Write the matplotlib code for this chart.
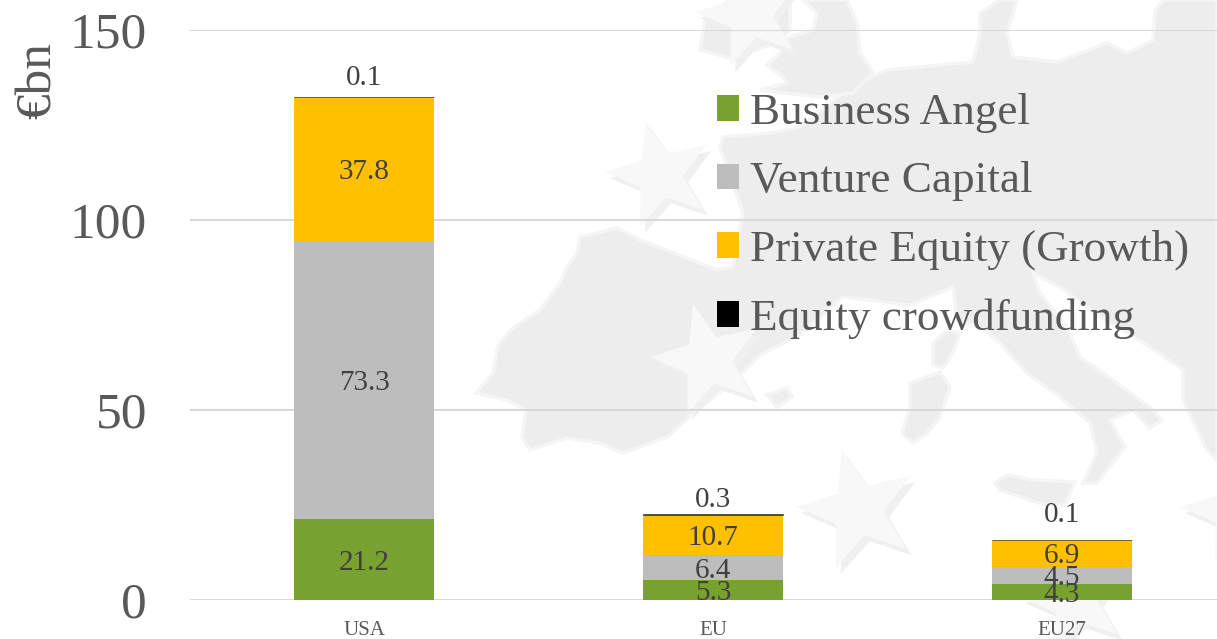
import numpy as np
import matplotlib
matplotlib.use('Agg')
import matplotlib.pyplot as plt
from matplotlib.patches import Patch, Polygon

categories = ['USA', 'EU', 'EU27']
business_angel = [21.2, 5.3, 4.3]
venture_capital = [73.3, 6.4, 4.5]
private_equity = [37.8, 10.7, 6.9]
crowdfunding = [0.1, 0.3, 0.1]
y_ticks = [0, 50, 100, 150]

series_names = ['Business Angel', 'Venture Capital', 'Private Equity (Growth)', 'Equity crowdfunding']
series_colors = ['#78A22F', '#BDBDBD', '#FFC000', '#000000']

# how far the top labels sit above the bars, in points
top_label_offset = [16, 12, 20]

# background map, traced in image pixels (decoration only)
iberia_europe = [(476, 393), (493, 373), (498, 345), (513, 328), (540, 310), (560, 283), (568, 265), (577, 253),
                 (580, 237), (617, 228), (640, 240), (687, 258), (717, 270), (733, 267), (743, 213), (720, 147),
                 (723, 137), (770, 133), (800, 127), (850, 87), (887, 70), (917, 67), (973, 62), (980, 33),
                 (980, 13), (1000, 0), (1017, 0), (1007, 33), (1013, 57), (1057, 62), (1107, 43), (1127, 53),
                 (1153, 40), (1155, 10), (1163, 0), (1217, 0), (1217, 460), (1207, 450), (1183, 400), (1183, 370),
                 (1150, 347), (1100, 317), (1060, 287), (1033, 273), (1040, 293), (1067, 327), (1080, 357),
                 (1103, 373), (1150, 407), (1162, 420), (1150, 428), (1133, 410), (1110, 420), (1125, 447),
                 (1097, 483), (1083, 483), (1097, 453), (1090, 423), (1060, 397), (1027, 373), (997, 340),
                 (980, 327), (957, 320), (953, 287), (910, 305), (870, 300), (843, 297), (800, 335), (760, 355),
                 (735, 380), (697, 410), (667, 437), (623, 453), (600, 443), (567, 438), (530, 450), (522, 437),
                 (526, 410), (507, 400)]
britain = [(803, 0), (817, 13), (813, 30), (790, 37), (783, 50), (767, 65), (783, 77), (787, 83), (760, 90),
           (820, 97), (853, 93), (873, 72), (860, 53), (857, 23), (847, 0)]
ireland = [(700, 50), (705, 20), (730, 0), (790, 0), (790, 30), (770, 45), (730, 58)]
corsica = [(933, 343), (947, 330), (960, 333), (953, 353), (943, 368), (933, 365)]
sardinia = [(910, 383), (940, 372), (950, 387), (940, 417), (927, 433), (913, 443), (902, 433), (910, 407)]
sicily = [(995, 483), (1007, 475), (1033, 480), (1075, 482), (1065, 505), (1045, 505), (1000, 490)]
mallorca = [(767, 395), (787, 388), (792, 397), (777, 407)]
land = [iberia_europe, britain, ireland, corsica, sardinia, sicily, mallorca]
stars = [(708, 360, 58), (660, 175, 55), (858, 510, 62), (750, 15, 55), (1075, 600, 55), (1235, 510, 55)]


def star_points(cx, cy, r, rot=15):
    angles = np.radians(90 + rot + np.arange(10) * 36)
    radius = np.where(np.arange(10) % 2 == 0, r, r * 0.42)
    return np.column_stack([cx + radius * np.cos(angles), cy - radius * np.sin(angles)])


plt.rcParams['font.family'] = ['Liberation Serif', 'DejaVu Serif']

fig = plt.figure(figsize=(12.17, 6.39), dpi=100)

bg = fig.add_axes([0, 0, 1, 1], zorder=0)
bg.set_xlim(0, 1217)
bg.set_ylim(639, 0)
bg.axis('off')
for shape in land:
    bg.add_patch(Polygon(shape, closed=True, facecolor='#EDEDED', edgecolor='#F5F5F5', linewidth=2.5))
for cx, cy, r in stars:
    bg.add_patch(Polygon(star_points(cx + 5, cy + 6, r), closed=True, facecolor='#F0F0F0', edgecolor='none'))
    bg.add_patch(Polygon(star_points(cx, cy, r), closed=True, facecolor='#F8F8F8', edgecolor='none'))

ax = fig.add_axes([189.5 / 1217, 39 / 639, (1217 - 189.5) / 1217, 570 / 639], zorder=1)
ax.patch.set_alpha(0)

x = np.arange(len(categories))
all_series = [business_angel, venture_capital, private_equity, crowdfunding]
bottom = np.zeros(len(categories))
for i, values in enumerate(all_series):
    if i < 3:
        ax.bar(x, values, 0.4, bottom=bottom, color=series_colors[i], zorder=3)
        for j, v in enumerate(values):
            ax.text(x[j], bottom[j] + v / 2, str(v), ha='center', va='center_baseline', fontsize=21,
                    color='#404040', zorder=4)
    else:
        # thin slice, needs an edge or it vanishes at this scale
        ax.bar(x, values, 0.4, bottom=bottom, color=series_colors[i], edgecolor='#404040', linewidth=0.5, zorder=3)
        for j, v in enumerate(values):
            ax.annotate(str(v), (x[j], bottom[j] + v), xytext=(0, top_label_offset[j]), textcoords='offset points',
                        ha='center', va='center_baseline', fontsize=21, color='#404040', zorder=4)
    bottom = bottom + np.array(values)

ax.set_xlim(-0.5, 2.444)
ax.set_ylim(0, 150)
ax.set_xticks(x)
ax.set_xticklabels(categories, fontsize=15, color='#595959')
ax.set_yticks(y_ticks)
ax.tick_params(axis='y', length=0, labelsize=37, labelcolor='#595959', pad=30.5)
ax.tick_params(axis='x', length=0, pad=15)
ax.grid(axis='y', color='#D9D9D9', linewidth=1.5, zorder=1)
ax.set_axisbelow(True)
for s in ax.spines.values():
    s.set_visible(False)

fig.text(38 / 1217, 1 - 81 / 639, '€bn', rotation=90, ha='center', va='center', fontsize=37, color='#595959')

handles = [Patch(facecolor=c, edgecolor='none') for c in series_colors]
fig.legend(handles, series_names, loc='upper left', bbox_to_anchor=(717 / 1217, 1 - 93 / 639), fontsize=32.5,
           frameon=False, labelcolor='#595959', handlelength=0.49, handleheight=0.5, handletextpad=0.25,
           labelspacing=0.63, borderpad=0, borderaxespad=0)

fig.savefig('out.png', dpi=100)
